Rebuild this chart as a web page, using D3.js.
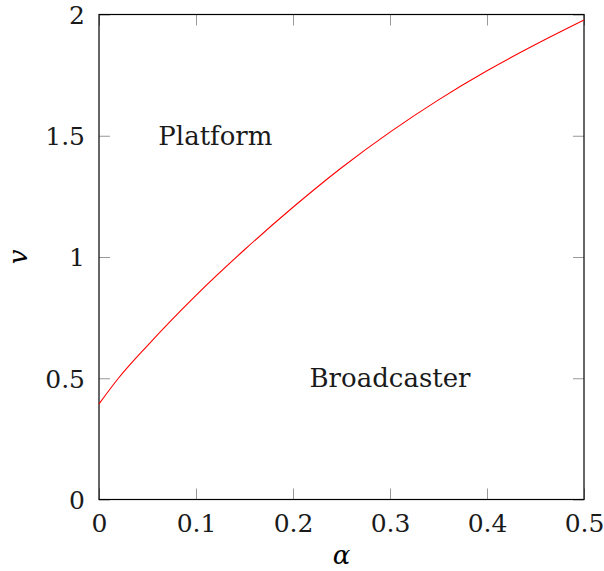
<!DOCTYPE html>
<html>
<head>
<meta charset="utf-8">
<script src="https://cdn.jsdelivr.net/npm/d3@7"></script>
<style>
  body { margin: 0; background: #fff; }
</style>
</head>
<body>
<div id="vis"></div>
<script>
const WIDTH = 604
const HEIGHT = 571
const margin = { left: 99, right: 20, top: 14.5, bottom: 71.5 }
const FONT = "'DejaVu Serif', serif"

// boundary curve
const alphaVals = [0, 0.02, 0.05, 0.1, 0.15, 0.2, 0.25, 0.3, 0.35, 0.4, 0.45, 0.5]
const vVals = [0.394, 0.50, 0.635, 0.842, 1.030, 1.205, 1.368, 1.515, 1.648, 1.768, 1.876, 1.977]

const xTicks = [0, 0.1, 0.2, 0.3, 0.4, 0.5]
const yTicks = [0, 0.5, 1, 1.5, 2]

const regionNames = ['Platform', 'Broadcaster']
const regionAlpha = [0.12, 0.3]
const regionV = [1.5, 0.5]

const pw = WIDTH - margin.left - margin.right
const ph = HEIGHT - margin.top - margin.bottom

const x = d3.scaleLinear().domain([0, 0.5]).range([margin.left, margin.left + pw])
const y = d3.scaleLinear().domain([0, 2]).range([margin.top + ph, margin.top])

const svg = d3.select('#vis').append('svg')
	.attr('width', WIDTH)
	.attr('height', HEIGHT)
	.style('font-family', FONT)

const tickFmt = d => String(d)

function styleTicks(g) {
	g.attr('font-family', null)
	g.select('.domain').remove()
	g.selectAll('.tick line').attr('stroke', '#999').attr('stroke-width', 1)
}

// bottom axis (ticks inward)
svg.append('g')
	.attr('transform', `translate(0,${y(0)})`)
	.call(d3.axisBottom(x).tickValues(xTicks).tickSize(-11).tickPadding(0).tickFormat(tickFmt))
	.call(styleTicks)
	.call(g => g.selectAll('.tick text').attr('font-size', 25).attr('y', 32).attr('dy', null)
		.attr('fill', '#1a1a1a').style('font-family', FONT))

// top mirror ticks
svg.append('g')
	.attr('transform', `translate(0,${y(2)})`)
	.call(d3.axisTop(x).tickValues(xTicks).tickSize(-11).tickFormat(''))
	.call(styleTicks)

// left axis
svg.append('g')
	.attr('transform', `translate(${x(0)},0)`)
	.call(d3.axisLeft(y).tickValues(yTicks).tickSize(-11).tickPadding(0).tickFormat(tickFmt))
	.call(styleTicks)
	.call(g => g.selectAll('.tick text').attr('font-size', 25).attr('x', -14).attr('dy', '0.35em')
		.attr('fill', '#1a1a1a').style('font-family', FONT))

// right mirror ticks
svg.append('g')
	.attr('transform', `translate(${x(0.5)},0)`)
	.call(d3.axisRight(y).tickValues(yTicks).tickSize(-11).tickFormat(''))
	.call(styleTicks)

// frame
svg.append('rect')
	.attr('x', x(0)).attr('y', y(2))
	.attr('width', x(0.5) - x(0)).attr('height', y(0) - y(2))
	.attr('fill', 'none')
	.attr('stroke', '#000')
	.attr('stroke-width', 1.2)

// curve
const line = d3.line()
	.x((d, i) => x(alphaVals[i]))
	.y(d => y(d))
	.curve(d3.curveMonotoneX)

svg.append('path')
	.datum(vVals)
	.attr('d', line)
	.attr('fill', 'none')
	.attr('stroke', '#ff0000')
	.attr('stroke-width', 1.1)

// region labels
svg.selectAll('.region')
	.data(regionNames)
	.enter()
	.append('text')
	.attr('class', 'region')
	.attr('x', (d, i) => x(regionAlpha[i]))
	.attr('y', (d, i) => y(regionV[i]))
	.attr('dy', '0.35em')
	.attr('text-anchor', 'middle')
	.attr('font-size', 26)
	.attr('fill', '#1a1a1a')
	.style('font-family', FONT)
	.text(d => d)

// axis titles
svg.append('text')
	.attr('x', x(0.25))
	.attr('y', 564)
	.attr('text-anchor', 'middle')
	.attr('font-size', 26)
	.attr('font-style', 'italic')
	.style('font-family', FONT)
	.text('α')

svg.append('text')
	.attr('transform', `translate(27,${y(1)}) rotate(-90)`)
	.attr('text-anchor', 'middle')
	.attr('font-size', 26)
	.attr('font-style', 'italic')
	.style('font-family', FONT)
	.text('v')
</script>
</body>
</html>
